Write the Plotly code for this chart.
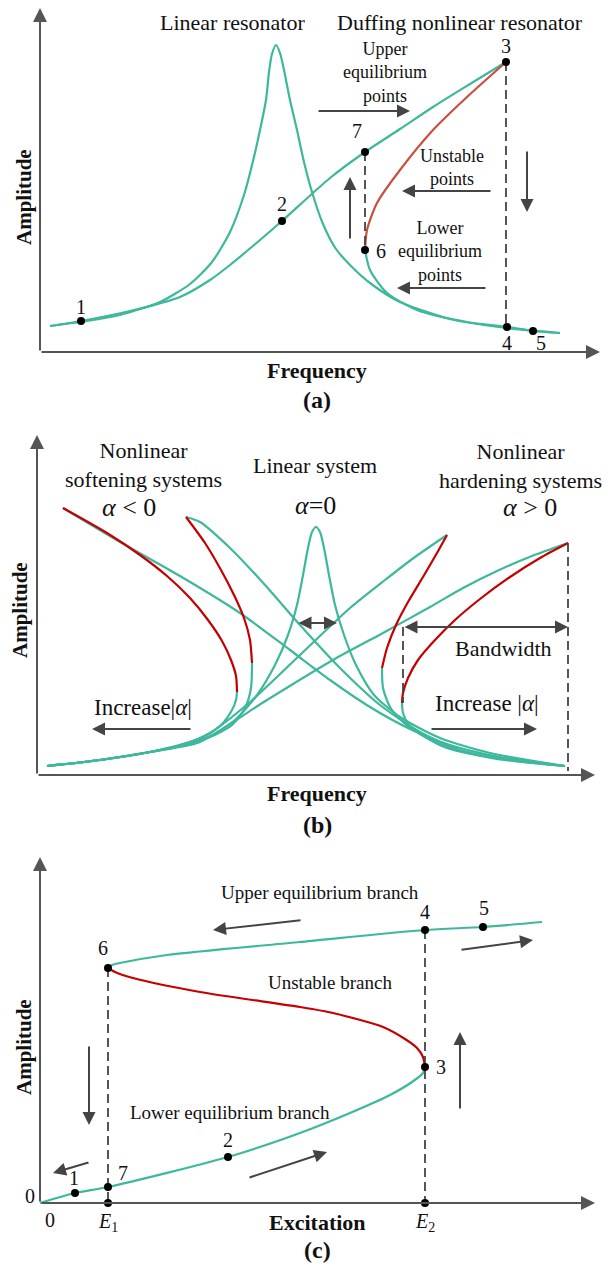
import plotly.graph_objects as go

TEAL = "#3DB89C"
RED_A = "#C9503F"
RED = "#C40000"
ARROW = "#444444"
AXIS = "#555555"
FONT = "Liberation Serif"

# ---------------- (a) frequency response: linear vs Duffing ----------------
a_lin_f = [10, 40, 80, 120, 150, 172, 190, 204, 214, 220, 226, 229, 232, 236, 240, 244, 250, 257, 264, 272, 283, 296, 312, 330, 360, 410, 467, 520]
a_lin_amp = [26, 30, 37, 50, 68, 90, 120, 157, 195, 222, 252, 280, 298, 307, 299, 282, 252, 222, 190, 160, 128, 103, 85, 69, 50, 33, 24, 19]

a_up_f = [10, 41, 90, 140, 170, 190, 220, 242, 290, 325, 360, 393, 430, 466]
a_up_amp = [26, 31, 41, 55, 72, 87, 112, 131, 174, 200, 223, 245, 268, 290]

a_unst_f = [466, 427, 393, 360, 337, 327, 325]
a_unst_amp = [290, 255, 222, 182, 149, 122, 102]

a_low_f = [325, 330, 347, 377, 427, 467, 493, 520]
a_low_amp = [102, 82, 59, 42, 30, 25, 21, 19]

a_pt_f = [41, 242, 466, 467, 493, 325, 325]
a_pt_amp = [31, 131, 290, 25, 21, 102, 200]
a_pt_lbl = ["1", "2", "3", "4", "5", "6", "7"]

# ---------------- (b) softening / linear / hardening families ----------------
b_tail_f = [10, 63, 113]
b_tail_amp = [9, 15, 23]

b_s1_low_f = b_tail_f + [143, 168, 185, 195, 199, 200]
b_s1_low_amp = b_tail_amp + [30, 39, 51, 65, 75, 83]
b_s1_red_f = [200, 199, 194, 185, 171, 153, 130, 103, 70, 26]
b_s1_red_amp = [83, 99, 115, 134, 155, 177, 199, 220, 242, 267]
b_s1_up_f = [26, 83, 143, 203, 253, 293, 333, 373, 413, 463, 528]
b_s1_up_amp = [267, 233, 199, 162, 125, 95, 68, 46, 30, 18, 9]

b_s2_low_f = b_tail_f + [143, 173, 195, 208, 214, 215]
b_s2_low_amp = b_tail_amp + [30, 38, 50, 67, 87, 112]
b_s2_red_f = [215, 213, 207, 197, 184, 168, 149]
b_s2_red_amp = [112, 135, 157, 180, 205, 232, 258]
b_s2_up_f = [149, 163, 193, 228, 263, 303, 343, 383, 423, 473, 528]
b_s2_up_amp = [258, 253, 227, 190, 150, 107, 70, 43, 25, 15, 9]

b_lin_f = b_tail_f + [143, 173, 198, 220, 238, 251, 260, 266, 271, 275, 279, 283, 287, 292, 298, 307, 319, 337, 363, 403, 453, 528]
b_lin_amp = b_tail_amp + [29, 39, 55, 80, 110, 140, 170, 200, 227, 243, 248, 243, 227, 200, 170, 140, 110, 80, 58, 37, 22, 9]

b_h1_up_f = b_tail_f + [143, 173, 213, 263, 313, 348, 378, 410]
b_h1_up_amp = b_tail_amp + [29, 42, 73, 120, 167, 195, 218, 240]
b_h1_red_f = [410, 400, 386, 371, 359, 350, 345]
b_h1_red_amp = [240, 222, 198, 173, 150, 127, 107]
b_h1_low_f = [345, 346, 353, 366, 383, 413, 463, 528]
b_h1_low_amp = [107, 87, 68, 53, 41, 27, 17, 9]

b_h2_up_f = b_tail_f + [143, 163, 230, 296, 346, 393, 426, 460, 495, 531]
b_h2_up_amp = b_tail_amp + [28, 33, 75, 115, 142, 168, 187, 204, 219, 232]
b_h2_red_f = [531, 503, 473, 443, 418, 398, 381, 371, 366, 365]
b_h2_red_amp = [232, 217, 198, 176, 155, 135, 115, 97, 82, 72]
b_h2_low_f = [365, 366, 372, 385, 410, 460, 528]
b_h2_low_amp = [72, 62, 50, 40, 27, 16, 9]

b_bw_f = [366, 531]          # bandwidth limits
b_bw_amp = 148

# ---------------- (c) amplitude vs excitation ----------------
c_low_e = [0, 35, 68, 188, 260, 310, 350, 372, 383, 385]
c_low_amp = [0, 10, 16, 46, 70, 90, 108, 121, 130, 136]
c_unst_e = [385, 383, 377, 365, 343, 293, 260, 160, 93, 75, 68]
c_unst_amp = [136, 146, 155, 164, 176, 190, 196, 211, 225, 231, 235]
c_up_e = [68, 72, 80, 127, 260, 385, 443, 502]
c_up_amp = [235, 238, 240, 248, 261, 273, 276, 281]

c_pt_e = [35, 68, 188, 385, 68, 385, 443, 68, 385]
c_pt_amp = [10, 16, 46, 136, 235, 273, 276, 0, 0]
c_num_lbl = ["1", "7", "2", "3", "6", "4", "5"]

fig = go.Figure()

H = 1267.0
panels = {
    "a": dict(xa="x", ya="y", xr=[-40, 574], yr=[-68, 352], dom=[1 - 420 / H, 1.0]),
    "b": dict(xa="x2", ya="y2", xr=[-37, 577], yr=[-65, 355], dom=[1 - 840 / H, 1 - 420 / H]),
    "c": dict(xa="x3", ya="y3", xr=[-40, 574], yr=[-64, 363], dom=[0.0, 1 - 840 / H]),
}


def curve(p, xs, ys, color, width=2.2):
    fig.add_trace(go.Scatter(
        x=xs, y=ys, mode="lines", xaxis=panels[p]["xa"], yaxis=panels[p]["ya"],
        line=dict(color=color, width=width, shape="spline", smoothing=0.7),
        hoverinfo="skip", showlegend=False))


def dots(p, xs, ys):
    fig.add_trace(go.Scatter(
        x=xs, y=ys, mode="markers", xaxis=panels[p]["xa"], yaxis=panels[p]["ya"],
        marker=dict(color="black", size=8), hoverinfo="skip", showlegend=False))


def vdash(p, x, y0, y1):
    fig.add_trace(go.Scatter(
        x=[x, x], y=[y0, y1], mode="lines", xaxis=panels[p]["xa"], yaxis=panels[p]["ya"],
        line=dict(color=ARROW, width=1.8, dash="9px,5px"), hoverinfo="skip", showlegend=False))


annotations = []


def text(p, x, y, s, size=20, bold=False, angle=0):
    annotations.append(dict(
        x=x, y=y, xref=panels[p]["xa"], yref=panels[p]["ya"], text=f"<b>{s}</b>" if bold else s,
        showarrow=False, textangle=angle, font=dict(family=FONT, size=size, color="#111111"),
        xanchor="center", yanchor="middle"))


def arrow(p, x0, y0, x1, y1, color=ARROW, width=2, both=False, size=1.3):
    d = dict(
        x=x1, y=y1, ax=x0, ay=y0, xref=panels[p]["xa"], yref=panels[p]["ya"],
        axref=panels[p]["xa"], ayref=panels[p]["ya"], text="", showarrow=True,
        arrowhead=2, arrowsize=size, arrowwidth=width, arrowcolor=color, standoff=0, startstandoff=0)
    if both:
        d.update(arrowside="end+start", startarrowhead=2, startarrowsize=size)
    annotations.append(d)


def axes(p, xend, yend, ylabel_x, ylabel_y, xlabel, xlabel_y, tag, tag_y, xmid):
    arrow(p, 0, 0, xend, 0, color=AXIS, width=2, size=1.4)
    arrow(p, 0, 0, 0, yend, color=AXIS, width=2, size=1.4)
    text(p, ylabel_x, ylabel_y, "Amplitude", size=21, bold=True, angle=-90)
    text(p, xmid, xlabel_y, xlabel, size=22, bold=True)
    text(p, xmid, tag_y, tag, size=24, bold=True)


# ----- panel (a)
curve("a", a_lin_f, a_lin_amp, TEAL)
curve("a", a_up_f, a_up_amp, TEAL)
curve("a", a_unst_f, a_unst_amp, RED_A)
curve("a", a_low_f, a_low_amp, TEAL)
vdash("a", a_pt_f[6], a_pt_amp[6], a_pt_amp[5])
vdash("a", a_pt_f[2], a_pt_amp[2], a_pt_amp[3])
dots("a", a_pt_f, a_pt_amp)
lbl_off = [(0, 14), (0, 17), (0, 16), (0, -16), (8, -12), (16, -1), (-8, 21)]
for f, amp, s, (dx, dy) in zip(a_pt_f, a_pt_amp, a_pt_lbl, lbl_off):
    text("a", f + dx, amp + dy, s, size=20)
axes("a", 560, 344, -16, 155, "Frequency", -18, "(a)", -48, 277)
text("a", 192, 330, "Linear resonator", size=22)
text("a", 420, 330, "Duffing nonlinear resonator", size=22)
text("a", 345, 280, "Upper<br>equilibrium<br>points", size=18)
text("a", 412, 185, "Unstable<br>points", size=18)
text("a", 400, 101, "Lower<br>equilibrium<br>points", size=18)
arrow("a", 277, 241, 370, 241)
arrow("a", 310, 112, 310, 175)
arrow("a", 487, 202, 487, 140)
arrow("a", 452, 161, 362, 161)
arrow("a", 447, 64, 357, 64)

# ----- panel (b)
for xs, ys in [(b_s1_low_f, b_s1_low_amp), (b_s1_up_f, b_s1_up_amp),
               (b_s2_low_f, b_s2_low_amp), (b_s2_up_f, b_s2_up_amp),
               (b_lin_f, b_lin_amp),
               (b_h1_up_f, b_h1_up_amp), (b_h1_low_f, b_h1_low_amp),
               (b_h2_up_f, b_h2_up_amp), (b_h2_low_f, b_h2_low_amp)]:
    curve("b", xs, ys, TEAL)
for xs, ys in [(b_s1_red_f, b_s1_red_amp), (b_s2_red_f, b_s2_red_amp),
               (b_h1_red_f, b_h1_red_amp), (b_h2_red_f, b_h2_red_amp)]:
    curve("b", xs, ys, RED)
vdash("b", b_bw_f[0], b_bw_amp, b_h2_red_amp[-1])
vdash("b", b_bw_f[1], b_h2_up_amp[-1], 4)
arrow("b", b_bw_f[0], b_bw_amp, b_bw_f[1], b_bw_amp, both=True)
arrow("b", 260, 152, 300, 152, both=True)
arrow("b", 155, 46, 55, 46)
arrow("b", 393, 46, 500, 46)
axes("b", 558, 340, -17, 165, "Frequency", -18, "(b)", -50, 280)
text("b", 106, 310, "Nonlinear<br>softening systems", size=22)
text("b", 92, 268, "<i>α</i> < 0", size=26)
text("b", 278, 310, "Linear system", size=22)
text("b", 278, 270, "<i>α</i>=0", size=26)
text("b", 483, 309, "Nonlinear<br>hardening systems", size=22)
text("b", 493, 268, "<i>α</i> > 0", size=26)
text("b", 466, 127, "Bandwidth", size=22)
text("b", 106, 68, "Increase|<i>α</i>|", size=23)
text("b", 450, 72, "Increase |<i>α</i>|", size=23)

# ----- panel (c)
curve("c", c_low_e, c_low_amp, TEAL)
curve("c", c_unst_e, c_unst_amp, RED)
curve("c", c_up_e, c_up_amp, TEAL)
vdash("c", c_pt_e[4], c_pt_amp[4], 0)
vdash("c", c_pt_e[5], c_pt_amp[5], 0)
axes("c", 555, 346, -16, 156, "Excitation", -19, "(c)", -47, 277)
dots("c", c_pt_e, c_pt_amp)
c_off = [(-1, 15), (15, 14), (0, 17), (16, 0), (-5, 20), (0, 18), (1, 19)]
for e, amp, s, (dx, dy) in zip(c_pt_e, c_pt_amp, c_num_lbl, c_off):
    text("c", e + dx, amp + dy, s, size=20)
text("c", -10, 7, "0", size=20)
text("c", 10, -17, "0", size=20)
text("c", c_pt_e[7], -19, "<i>E</i><sub>1</sub>", size=20)
text("c", c_pt_e[8], -19, "<i>E</i><sub>2</sub>", size=20)
text("c", 280, 311, "Upper equilibrium branch", size=19)
text("c", 290, 221, "Unstable branch", size=19)
text("c", 190, 91, "Lower equilibrium branch", size=19)
arrow("c", 50, 41, 13, 30)
arrow("c", 49, 158, 49, 78)
arrow("c", 262, 283, 173, 273)
arrow("c", 208, 25, 287, 51)
arrow("c", 420, 93, 420, 171)
arrow("c", 420, 253, 493, 263)

layout = dict(
    width=614, height=1267, margin=dict(l=0, r=0, t=0, b=0),
    paper_bgcolor="white", plot_bgcolor="white", showlegend=False,
    annotations=annotations,
)
for i, key in enumerate(["a", "b", "c"]):
    sfx = "" if i == 0 else str(i + 1)
    pnl = panels[key]
    layout["xaxis" + sfx] = dict(range=pnl["xr"], domain=[0, 1], visible=False, fixedrange=True,
                                 anchor="y" + sfx)
    layout["yaxis" + sfx] = dict(range=pnl["yr"], domain=pnl["dom"], visible=False, fixedrange=True,
                                 anchor="x" + sfx)
fig.update_layout(**layout)
fig.write_html("out.html")
